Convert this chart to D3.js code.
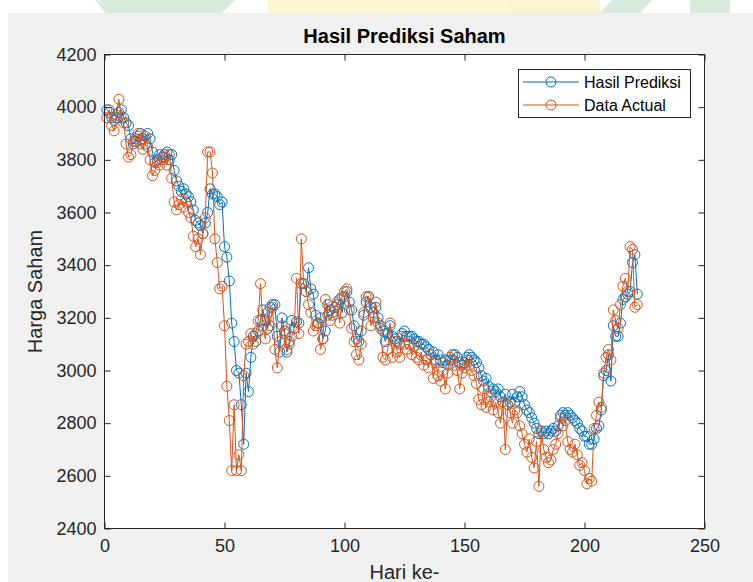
<!DOCTYPE html>
<html>
<head>
<meta charset="utf-8">
<script src="https://cdn.jsdelivr.net/npm/d3@7"></script>
<style>
  html, body { margin: 0; padding: 0; background: #ffffff; }
  svg { display: block; font-family: "Liberation Sans", Arial, Helvetica, sans-serif; }
</style>
</head>
<body>
<div id="chart"></div>
<script>
// Data
const hasilPrediksi = [
  3990, 3980, 3960, 3950, 3960, 3980, 3990, 3960, 3940, 3930,
  3880, 3860, 3870, 3890, 3900, 3880, 3860, 3900, 3880, 3830,
  3790, 3800, 3820, 3810, 3820, 3830, 3800, 3820, 3760, 3720,
  3700, 3680, 3690, 3670, 3660, 3640, 3610, 3570, 3560, 3550,
  3520, 3560, 3600, 3690, 3670, 3670, 3660, 3630, 3640, 3470,
  3430, 3340, 3180, 3110, 3000, 2990, 2870, 2720, 2990, 2920,
  3050, 3130, 3110, 3150, 3190, 3230, 3190, 3160, 3240, 3250,
  3250, 3130, 3070, 3200, 3150, 3070, 3110, 3190, 3160, 3185,
  3180, 3330, 3330, 3300, 3390, 3310, 3290, 3210, 3180, 3200,
  3120, 3150, 3250, 3230, 3210, 3240, 3250, 3270, 3220, 3280,
  3300, 3260, 3230, 3170, 3120, 3110, 3150, 3210, 3260, 3280,
  3240, 3220, 3240, 3200, 3170, 3150, 3110, 3140, 3170, 3130,
  3120, 3110, 3100, 3140, 3150, 3130, 3130, 3130, 3120, 3110,
  3110, 3100, 3100, 3090, 3080, 3060, 3070, 3040, 3060, 3040,
  3030, 3040, 3020, 3040, 3060, 3060, 3050, 3030, 3020, 3030,
  3050, 3060, 3050, 3040, 3030, 3010, 2980, 2960, 2970, 2940,
  2920, 2930, 2920, 2930, 2900, 2880, 2910, 2870, 2880, 2910,
  2880, 2900, 2920, 2900, 2870, 2850, 2840, 2820, 2800, 2780,
  2760, 2770, 2760, 2770, 2760, 2770, 2780, 2770, 2790, 2830,
  2840, 2830, 2840, 2830, 2820, 2810, 2800, 2780, 2770, 2750,
  2750, 2720, 2720, 2740, 2780, 2790, 2850, 2980, 3000, 3060,
  2960, 3170, 3130, 3130, 3180, 3270, 3280, 3290, 3300, 3410,
  3440, 3290
];

const dataActual = [
  3960, 3990, 3930, 3910, 3970, 4030, 3960, 3940, 3860, 3810,
  3820, 3870, 3880, 3900, 3860, 3840, 3890, 3850, 3800, 3740,
  3760, 3790, 3780, 3800, 3810, 3780, 3820, 3730, 3640, 3610,
  3630, 3650, 3620, 3640, 3600, 3580, 3510, 3470, 3500, 3440,
  3520, 3580, 3830, 3830, 3750, 3500, 3410, 3310, 3320, 3170,
  2940, 2810, 2620, 2870, 2620, 2680, 2620, 2980, 3100, 3110,
  3140, 3100, 3140, 3190, 3330, 3170, 3120, 3220, 3170, 3240,
  3080, 3010, 3110, 3170, 3140, 3080, 3100, 3130, 3160, 3350,
  3140, 3500, 3330, 3300, 3250, 3220, 3150, 3170, 3180, 3080,
  3120, 3270, 3210, 3190, 3220, 3240, 3260, 3180, 3280, 3300,
  3310, 3230, 3160, 3110, 3060, 3040, 3100, 3220, 3280, 3280,
  3170, 3200, 3260, 3180, 3160, 3050, 3040, 3080, 3180, 3050,
  3110, 3070, 3050, 3130, 3100, 3080, 3100, 3060, 3090, 3050,
  3040, 3070, 3020, 3040, 3010, 3060, 2970, 3030, 2980, 2960,
  3000, 2930, 2990, 3050, 3040, 3020, 3000, 2930, 2990, 3010,
  3040, 3020, 3000, 2980, 2950, 2890, 2870, 2930, 2860, 2880,
  2900, 2850, 2880, 2840, 2800, 2880, 2700, 2870, 2840, 2800,
  2850, 2840, 2790, 2760, 2720, 2690, 2740, 2670, 2630, 2730,
  2560, 2770, 2700, 2670, 2650, 2660, 2700, 2720, 2760, 2820,
  2790, 2810, 2730, 2700, 2690, 2720, 2680, 2640, 2650, 2620,
  2570, 2590, 2580, 2780, 2830, 2880, 2860, 2990, 3050, 3080,
  3040, 3230, 3190, 3160, 3250, 3320, 3350, 3300, 3470, 3460,
  3240, 3250
];

const seriesNames = ["Hasil Prediksi", "Data Actual"];
const xTicks = [0, 50, 100, 150, 200, 250];
const yTicks = [2400, 2600, 2800, 3000, 3200, 3400, 3600, 3800, 4000, 4200];

const W = 753, H = 582;
const plot = { left: 104.5, top: 54.5, right: 704.5, bottom: 528.5 };
const colors = ["#0072BD", "#D95319"];

const svg = d3.select("#chart").append("svg")
  .attr("width", W)
  .attr("height", H);

// faint watermark strip at the top
const wm = svg.append("g").attr("opacity", 0.35);
wm.append("path").attr("d", "M95,0 L235,0 L222,13 L105,13 Z").attr("fill", "#8cc79a");
wm.append("path").attr("d", "M268,0 L600,0 L600,13 L268,13 Z").attr("fill", "#f3e27a");
wm.append("path").attr("d", "M612,0 L652,0 L640,13 L600,13 Z").attr("fill", "#8cc79a");
wm.append("path").attr("d", "M690,0 L730,0 L730,13 L690,13 Z").attr("fill", "#8cc79a");

// figure background
svg.append("rect")
  .attr("x", 8).attr("y", 13)
  .attr("width", W - 8).attr("height", H - 13)
  .attr("fill", "#f0f0f0");

const x = d3.scaleLinear().domain([0, 250]).range([plot.left, plot.right]);
const y = d3.scaleLinear().domain([2400, 4200]).range([plot.bottom, plot.top]);

// axes background
svg.append("rect")
  .attr("x", plot.left).attr("y", plot.top)
  .attr("width", plot.right - plot.left).attr("height", plot.bottom - plot.top)
  .attr("fill", "#ffffff");

// series
const allSeries = [hasilPrediksi, dataActual];
const line = d3.line().x((d, i) => x(i + 1)).y(d => y(d));

allSeries.forEach((vals, k) => {
  const g = svg.append("g");
  g.append("path")
    .datum(vals)
    .attr("d", line)
    .attr("fill", "none")
    .attr("stroke", colors[k])
    .attr("stroke-width", 1);
  g.selectAll("circle")
    .data(vals)
    .enter()
    .append("circle")
    .attr("cx", (d, i) => x(i + 1))
    .attr("cy", d => y(d))
    .attr("r", 5)
    .attr("fill", "none")
    .attr("stroke", colors[k])
    .attr("stroke-width", 1);
});

// axes with inward ticks on all sides
const tickLen = 6;
const axisColor = "#262626";
const fontTick = 18;

const xb = d3.axisBottom(x).tickValues(xTicks).tickSizeInner(-tickLen).tickSizeOuter(0).tickPadding(11);
const xt = d3.axisTop(x).tickValues(xTicks).tickSizeInner(-tickLen).tickSizeOuter(0).tickFormat("");
const yl = d3.axisLeft(y).tickValues(yTicks).tickFormat(d3.format("d")).tickSizeInner(-tickLen).tickSizeOuter(0).tickPadding(8);
const yr = d3.axisRight(y).tickValues(yTicks).tickSizeInner(-tickLen).tickSizeOuter(0).tickFormat("");

function styleAxis(g) {
  g.select(".domain").remove();
  g.selectAll("line").attr("stroke", axisColor);
  g.selectAll("text")
    .attr("fill", axisColor)
    .style("font-size", fontTick + "px")
    .style("font-family", "'Liberation Sans', Arial, sans-serif");
}

svg.append("g").attr("transform", `translate(0,${plot.bottom})`).call(xb).call(styleAxis);
svg.append("g").attr("transform", `translate(0,${plot.top})`).call(xt).call(styleAxis);
svg.append("g").attr("transform", `translate(${plot.left},0)`).call(yl).call(styleAxis);
svg.append("g").attr("transform", `translate(${plot.right},0)`).call(yr).call(styleAxis);

// axes box
svg.append("rect")
  .attr("x", plot.left).attr("y", plot.top)
  .attr("width", plot.right - plot.left).attr("height", plot.bottom - plot.top)
  .attr("fill", "none")
  .attr("stroke", axisColor)
  .attr("stroke-width", 1);

// title and labels
svg.append("text")
  .attr("x", (plot.left + plot.right) / 2)
  .attr("y", 43)
  .attr("text-anchor", "middle")
  .attr("font-weight", "bold")
  .attr("font-size", 20)
  .attr("fill", "#000")
  .text("Hasil Prediksi Saham");

svg.append("text")
  .attr("x", (plot.left + plot.right) / 2)
  .attr("y", 579)
  .attr("text-anchor", "middle")
  .attr("font-size", 20)
  .attr("fill", axisColor)
  .text("Hari ke-");

svg.append("text")
  .attr("transform", `translate(42,${(plot.top + plot.bottom) / 2}) rotate(-90)`)
  .attr("text-anchor", "middle")
  .attr("font-size", 20)
  .attr("fill", axisColor)
  .text("Harga Saham");

// legend
const legend = svg.append("g");
legend.append("rect")
  .attr("x", 518.5).attr("y", 69.5)
  .attr("width", 172).attr("height", 48)
  .attr("fill", "#ffffff")
  .attr("stroke", axisColor)
  .attr("stroke-width", 1);

seriesNames.forEach((name, k) => {
  const ly = 82 + k * 23;
  legend.append("line")
    .attr("x1", 523).attr("x2", 579)
    .attr("y1", ly).attr("y2", ly)
    .attr("stroke", colors[k]).attr("stroke-width", 1);
  legend.append("circle")
    .attr("cx", 551).attr("cy", ly).attr("r", 5)
    .attr("fill", "none").attr("stroke", colors[k]).attr("stroke-width", 1);
  legend.append("text")
    .attr("x", 584).attr("y", ly)
    .attr("dy", "0.35em")
    .attr("font-size", 16)
    .attr("fill", "#000")
    .text(name);
});
</script>
</body>
</html>
